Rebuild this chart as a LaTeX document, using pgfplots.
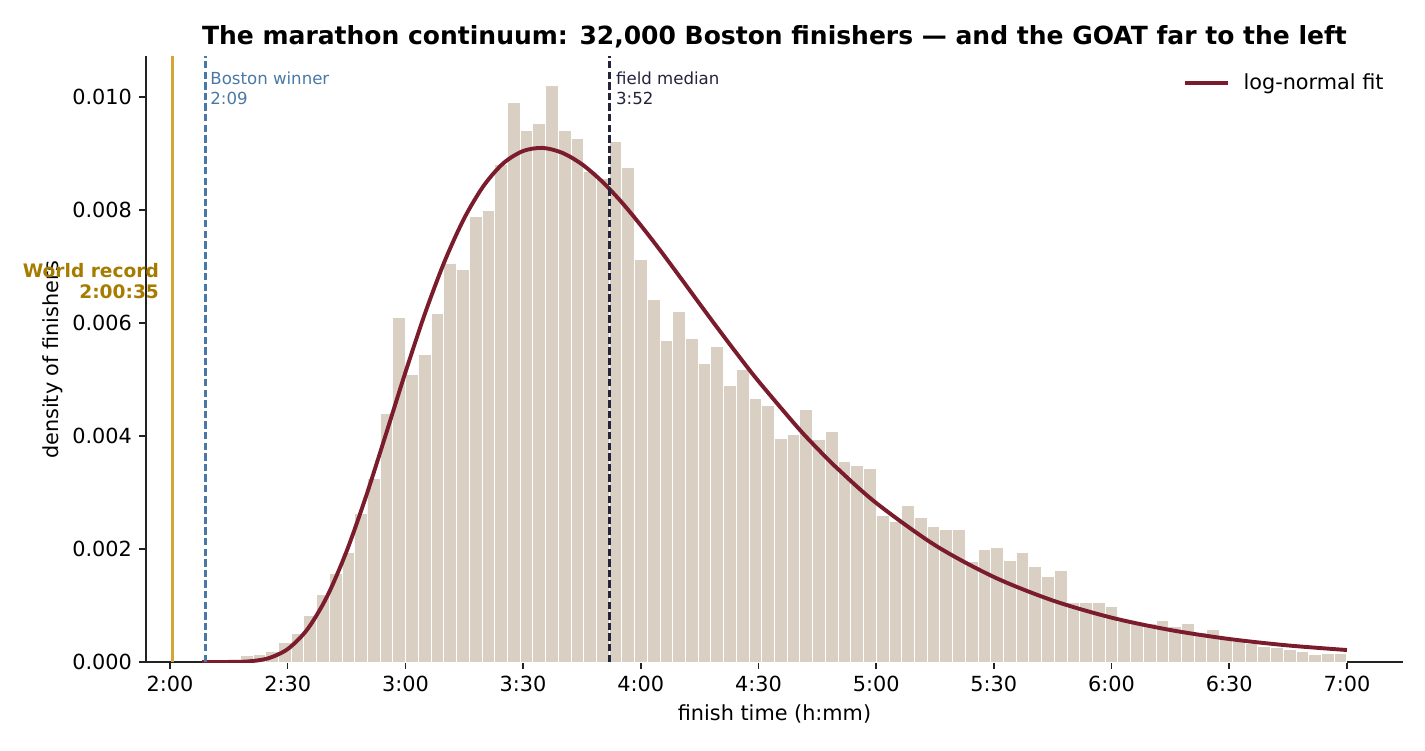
\documentclass[border=0pt]{standalone}
\usepackage{pgfplots}
\pgfplotsset{compat=1.18}
\usepackage{pgfplotstable}
\usepackage{fontspec}
\setmainfont{DejaVu Sans}
\definecolor{barcol}{HTML}{D9D0C3}
\definecolor{fitcol}{HTML}{7B1C2C}
\definecolor{wrcol}{HTML}{D4A537}
\definecolor{wrtext}{HTML}{A67C00}
\definecolor{boscol}{HTML}{4A78A6}
\definecolor{medcol}{HTML}{23233A}
\definecolor{axcol}{HTML}{222222}

\pgfplotstableread{
edge dens
128.20 0.00002
131.44 0.00005
134.68 0.00001
137.93 0.00012
141.17 0.00013
144.41 0.00018
147.65 0.00035
150.90 0.00051
154.14 0.00083
157.38 0.00120
160.62 0.00157
163.86 0.00194
167.11 0.00263
170.35 0.00325
173.59 0.00440
176.83 0.00610
180.08 0.00509
183.32 0.00544
186.56 0.00617
189.80 0.00706
193.04 0.00694
196.29 0.00789
199.53 0.00799
202.77 0.00880
206.01 0.00990
209.26 0.00940
212.50 0.00953
215.74 0.01020
218.98 0.00940
222.22 0.00926
225.47 0.00868
228.71 0.00856
231.95 0.00921
235.19 0.00875
238.43 0.00713
241.68 0.00642
244.92 0.00569
248.16 0.00621
251.40 0.00572
254.65 0.00528
257.89 0.00558
261.13 0.00489
264.37 0.00517
267.61 0.00466
270.86 0.00454
274.10 0.00395
277.34 0.00402
280.58 0.00447
283.83 0.00393
287.07 0.00408
290.31 0.00355
293.55 0.00347
296.79 0.00343
300.04 0.00259
303.28 0.00248
306.52 0.00277
309.76 0.00255
313.01 0.00240
316.25 0.00234
319.49 0.00234
322.73 0.00177
325.97 0.00199
329.22 0.00202
332.46 0.00179
335.70 0.00193
338.94 0.00169
342.19 0.00151
345.43 0.00162
348.67 0.00106
351.91 0.00105
355.15 0.00105
358.40 0.00098
361.64 0.00071
364.88 0.00068
368.12 0.00068
371.37 0.00073
374.61 0.00062
377.85 0.00068
381.09 0.00053
384.33 0.00057
387.58 0.00039
390.82 0.00036
394.06 0.00033
397.30 0.00027
400.54 0.00026
403.79 0.00022
407.03 0.00018
410.27 0.00014
413.51 0.00015
416.76 0.00015
420.00 0.00015
}\hist

\pgfplotstableread{
x y
128.2 0.0
130 0.0
135 0.000001
140 0.0000106
145 0.0000646
150 0.000229
155 0.000577
160 0.001154
165 0.001957
170 0.002939
175 0.004023
180 0.005125
185 0.006170
190 0.007092
195 0.007854
200 0.008434
205 0.008829
210 0.009044
215 0.009099
220 0.009012
225 0.008810
230 0.008514
235 0.008148
240 0.007730
245 0.007282
250 0.006814
255 0.006340
260 0.005871
265 0.005413
270 0.004970
280 0.004151
285 0.003780
290 0.003433
300 0.002815
315 0.002068
330 0.001505
345 0.001089
360 0.000785
375 0.000566
390 0.000407
405 0.000293
420 0.000212
}\fit

\begin{document}
\begin{tikzpicture}
\path[use as bounding box] (-73pt,-44pt) rectangle (639.5pt,331pt);
\begin{axis}[
  at={(0,0)}, anchor=south west,
  scale only axis, width=628.5pt, height=303pt,
  xmin=113.88, xmax=434.3, ymin=0, ymax=0.010726,
  axis x line*=bottom, axis y line*=left,
  axis line style={axcol, line width=0.8pt, -},
  every tick/.style={axcol, line width=0.8pt},
  tick align=outside, major tick length=3.5pt,
  xtick={120,150,180,210,240,270,300,330,360,390,420},
  xticklabels={2:00,2:30,3:00,3:30,4:00,4:30,5:00,5:30,6:00,6:30,7:00},
  ytick={0,0.002,0.004,0.006,0.008,0.010},
  scaled y ticks=false,
  yticklabel style={/pgf/number format/.cd, fixed, fixed zerofill, precision=3},
  /pgf/number format/assume math mode=true,
  tick label style={font=\fontsize{10.4}{12}\selectfont, text=black},
  legend style={at={(axis description cs:0.988,0.955)}, anchor=east, draw=none, fill=none,
     font=\fontsize{10.4}{12}\selectfont, inner sep=0pt, row sep=0pt, column sep=5pt},
  legend cell align=left,
  legend image code/.code={\draw[#1] (0pt,0pt) -- (21.5pt,0pt);},
]
\addplot[ybar interval, fill=barcol, draw=white, line width=0.5pt, forget plot] table[x=edge, y=dens] {\hist};
\addplot[fitcol, line width=1.95pt, smooth] table[x=x, y=y] {\fit};
\addlegendentry{log-normal fit}
\addplot[wrcol, line width=1.75pt, forget plot] coordinates {(120.58,0) (120.58,0.010726)};
\addplot[boscol, line width=1.4pt, dash pattern=on 3.7pt off 1.6pt, forget plot] coordinates {(129,0) (129,0.010726)};
\addplot[medcol, line width=1.4pt, dash pattern=on 3.7pt off 1.6pt, forget plot] coordinates {(232,0) (232,0.010726)};
\end{axis}
\node[anchor=base, font=\fontsize{12.5}{14}\selectfont\bfseries] at (314.25pt,308.5pt) {The marathon continuum: 32,000 Boston finishers — and the GOAT far to the left};
\node[anchor=base, font=\fontsize{10.4}{12}\selectfont] at (314.25pt,-29.5pt) {finish time (h:mm)};
\node[rotate=90, anchor=center, font=\fontsize{10.4}{12}\selectfont] at (-46.5pt,151pt) {density of finishers};
\node[anchor=base west, inner sep=0pt, text=boscol, font=\fontsize{8.3}{10}\selectfont] at (32pt,288.5pt) {Boston winner};
\node[anchor=base west, inner sep=0pt, text=boscol, font=\fontsize{8.3}{10}\selectfont] at (32pt,278.5pt) {2:09};
\node[anchor=base west, inner sep=0pt, text=medcol, font=\fontsize{8.3}{10}\selectfont] at (234.85pt,288.5pt) {field median};
\node[anchor=base west, inner sep=0pt, text=medcol, font=\fontsize{8.3}{10}\selectfont] at (234.85pt,278.5pt) {3:52};
\node[anchor=base east, inner sep=0pt, text=wrtext, font=\fontsize{9.3}{11}\selectfont\bfseries] at (6.65pt,192.35pt) {World record};
\node[anchor=base east, inner sep=0pt, text=wrtext, font=\fontsize{9.3}{11}\selectfont\bfseries] at (6.65pt,181.85pt) {2:00:35};
\end{tikzpicture}
\end{document}
